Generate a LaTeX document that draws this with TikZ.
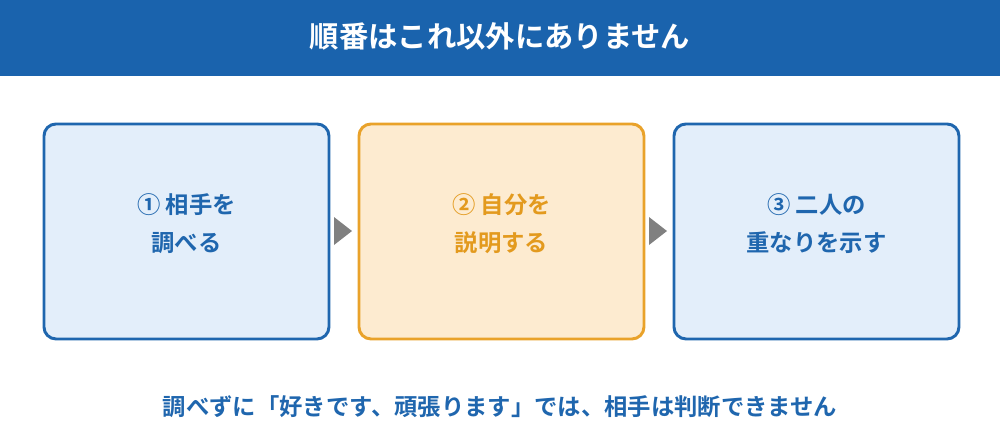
\documentclass[tikz,border=0pt]{standalone}
\usepackage{fontspec}
\newfontfamily\cjk{Noto Sans CJK JP Bold}
\definecolor{hdr}{HTML}{1A63AD}
\definecolor{bl}{HTML}{1F66AE}
\definecolor{blf}{HTML}{E3EEFA}
\definecolor{or}{HTML}{E9A22A}
\definecolor{orf}{HTML}{FDEBD0}
\definecolor{orT}{HTML}{E39A1E}
\definecolor{ar}{HTML}{808080}
\begin{document}
\begin{tikzpicture}[x=0.75pt,y=-0.75pt,
 box/.style={draw, line width=2.2pt, rounded corners=9pt, minimum width=285*0.75pt, minimum height=215*0.75pt, anchor=north west},
 txt/.style={font=\cjk\fontsize{17.5}{28.5}\selectfont, align=center},
 tri/.style={fill=ar}]
\useasboundingbox (0,0) rectangle (1000,440);
\fill[hdr] (0,0) rectangle (1000,76);
\node[font=\cjk\fontsize{22}{26}\selectfont, text=white] (title) at (500,36) {順番はこれ以外にありません};
\node[box, draw=bl, fill=blf] (b1) at (42.5,122.5) {};
\node[box, draw=or, fill=orf] (b2) at (357.5,122.5) {};
\node[box, draw=bl, fill=blf] (b3) at (672.5,122.5) {};
\node[txt, text=bl] (t1) at ([yshift=6pt]b1.center) {① 相手を\\調べる};
\node[txt, text=orT] (t2) at ([yshift=6pt]b2.center) {② 自分を\\説明する};
\node[txt, text=bl] (t3) at ([yshift=6pt]b3.center) {③ 二人の\\重なりを示す};
\fill[tri] (334,217) -- (352,231) -- (334,245) -- cycle;
\fill[tri] (649,217) -- (667,231) -- (649,245) -- cycle;
\node[font=\cjk\fontsize{17.5}{20}\selectfont, text=bl] (foot) at (500,407) {調べずに「好きです、頑張ります」では、相手は判断できません};
\end{tikzpicture}
\end{document}
